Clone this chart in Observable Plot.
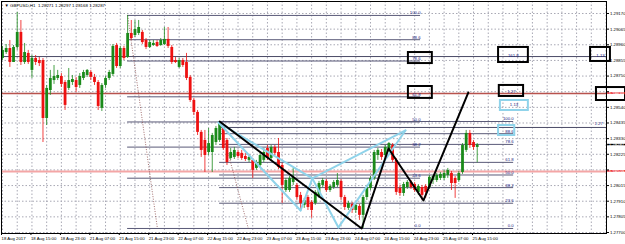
<!DOCTYPE html>
<html><head><meta charset="utf-8">
<script src="https://cdn.jsdelivr.net/npm/d3@7"></script>
<script src="https://cdn.jsdelivr.net/npm/@observablehq/plot@0.6"></script>
<style>body{margin:0;background:#fff;overflow:hidden}</style>
</head><body><div id="chart"></div>
<script>
// ---- data (GBPUSD H1) ----
const opens=[1.28868,1.28908,1.28935,1.28841,1.28942,1.29043,1.28841,1.28902,1.28788,1.28868,1.28854,1.28854,1.28465,1.28653,1.28720,1.28734,1.28747,1.28707,1.28667,1.28707,1.28720,1.28687,1.28734,1.28754,1.28774,1.28741,1.28707,1.28533,1.28687,1.28734,1.28761,1.28955,1.28814,1.28935,1.28875,1.29036,1.29022,1.29036,1.29043,1.28989,1.28942,1.28955,1.28975,1.28955,1.28962,1.28996,1.28942,1.28854,1.28808,1.28854,1.28841,1.28741,1.28586,1.28506,1.28372,1.28318,1.28237,1.28237,1.28304,1.28318,1.28405,1.28318,1.28197,1.28204,1.28237,1.28231,1.28210,1.28184,1.28184,1.28130,1.28150,1.28184,1.28264,1.28197,1.28271,1.28237,1.28150,1.27982,1.27982,1.28036,1.28016,1.27949,1.27882,1.27935,1.27902,1.27895,1.27942,1.28016,1.28043,1.27982,1.28002,1.28016,1.28043,1.27935,1.27862,1.27888,1.27848,1.27875,1.27815,1.27935,1.27996,1.28063,1.28217,1.28237,1.28217,1.28251,1.28284,1.28184,1.27996,1.27962,1.28002,1.28036,1.28022,1.27969,1.28002,1.28009,1.28002,1.28049,1.28049,1.28063,1.28063,1.28083,1.28096,1.28063,1.28049,1.28103,1.28251,1.28365,1.28304,1.28271];
const highs=[1.28949,1.28962,1.28989,1.28955,1.29177,1.29123,1.28969,1.28922,1.28888,1.28888,1.28875,1.28868,1.28687,1.28788,1.28821,1.28788,1.28767,1.28720,1.28801,1.28754,1.28741,1.28767,1.28788,1.28794,1.28788,1.28761,1.28720,1.28700,1.28747,1.28788,1.28962,1.28969,1.28949,1.28949,1.29157,1.29123,1.29123,1.29123,1.29056,1.29002,1.28989,1.28989,1.28989,1.29002,1.29076,1.29076,1.28955,1.28875,1.28868,1.28868,1.28902,1.28754,1.28600,1.28519,1.28385,1.28385,1.28398,1.28365,1.28412,1.28445,1.28425,1.28331,1.28264,1.28271,1.28251,1.28251,1.28231,1.28224,1.28197,1.28184,1.28231,1.28264,1.28284,1.28284,1.28284,1.28331,1.28164,1.28063,1.28076,1.28130,1.28029,1.27969,1.27929,1.27949,1.27915,1.27982,1.28043,1.28063,1.28056,1.28022,1.28049,1.28096,1.28056,1.27949,1.27909,1.27902,1.27895,1.27888,1.27949,1.28016,1.28076,1.28251,1.28264,1.28257,1.28284,1.28304,1.28297,1.28197,1.28016,1.28036,1.28049,1.28049,1.28036,1.28022,1.28016,1.28022,1.28083,1.28083,1.28096,1.28103,1.28117,1.28130,1.28110,1.28076,1.28110,1.28297,1.28385,1.28385,1.28318,1.28297];
const lows=[1.28854,1.28895,1.28808,1.28854,1.28922,1.28821,1.28828,1.28828,1.28734,1.28821,1.28814,1.28304,1.28418,1.28620,1.28694,1.28720,1.28673,1.28519,1.28653,1.28687,1.28640,1.28667,1.28720,1.28741,1.28720,1.28687,1.28519,1.28512,1.28667,1.28720,1.28747,1.28801,1.28801,1.28854,1.28868,1.28989,1.29009,1.29022,1.28962,1.28928,1.28935,1.28949,1.28942,1.28949,1.28955,1.28935,1.28828,1.28834,1.28801,1.28808,1.28720,1.28573,1.28485,1.28351,1.28204,1.28103,1.28217,1.28103,1.28284,1.28304,1.28251,1.28150,1.28184,1.28190,1.28197,1.28184,1.28177,1.28170,1.28063,1.28117,1.28137,1.28170,1.28184,1.28184,1.28217,1.28123,1.27895,1.27969,1.27969,1.28016,1.27915,1.27848,1.27862,1.27848,1.27795,1.27882,1.27929,1.28002,1.27969,1.27969,1.27989,1.28002,1.27915,1.27848,1.27848,1.27828,1.27828,1.27781,1.27727,1.27915,1.27982,1.28049,1.28184,1.28184,1.28197,1.28237,1.28170,1.27949,1.27942,1.27942,1.27989,1.27989,1.27969,1.27949,1.27915,1.27929,1.27989,1.28022,1.28036,1.28049,1.28049,1.28063,1.27982,1.27929,1.28036,1.28090,1.28237,1.28264,1.28251,1.28168];
const closes=[1.28922,1.28935,1.28841,1.28942,1.29043,1.28841,1.28908,1.28841,1.28868,1.28841,1.28834,1.28465,1.28667,1.28734,1.28747,1.28754,1.28694,1.28553,1.28720,1.28727,1.28673,1.28747,1.28774,1.28788,1.28741,1.28707,1.28546,1.28687,1.28734,1.28774,1.28949,1.28814,1.28935,1.28868,1.29036,1.29002,1.29063,1.29076,1.28975,1.28942,1.28975,1.28969,1.28949,1.28989,1.28996,1.28949,1.28841,1.28841,1.28854,1.28821,1.28734,1.28586,1.28506,1.28372,1.28251,1.28217,1.28297,1.28351,1.28398,1.28432,1.28264,1.28170,1.28237,1.28251,1.28210,1.28197,1.28190,1.28204,1.28117,1.28170,1.28217,1.28237,1.28197,1.28271,1.28231,1.28137,1.28016,1.28049,1.28063,1.28070,1.27935,1.27895,1.27915,1.27868,1.27848,1.27969,1.28029,1.28049,1.27982,1.28009,1.28036,1.28049,1.27935,1.27868,1.27895,1.27848,1.27882,1.27815,1.27935,1.28002,1.28063,1.28237,1.28251,1.28204,1.28271,1.28297,1.28184,1.27969,1.27962,1.28022,1.28036,1.28002,1.27982,1.28009,1.27949,1.27969,1.28070,1.28076,1.28083,1.28090,1.28096,1.28117,1.28029,1.28029,1.28096,1.28284,1.28365,1.28284,1.28271,1.28287];
const timeLabels=["18 Aug 2017","18 Aug 15:00","18 Aug 23:00","21 Aug 07:00","21 Aug 15:00","21 Aug 23:00","22 Aug 07:00","22 Aug 15:00","22 Aug 23:00","23 Aug 07:00","23 Aug 15:00","23 Aug 23:00","24 Aug 07:00","24 Aug 15:00","24 Aug 23:00","25 Aug 07:00","25 Aug 15:00"];
const priceTicks=[1.27700,1.27805,1.27910,1.28015,1.28120,1.28225,1.28330,1.28435,1.28540,1.28645,1.28750,1.28855,1.28960,1.29065,1.29170];
// tick labels hidden behind price tags in the reference
const hiddenTickLabels=[1.28120,1.28645];
const fibRatios=[0,0.236,0.382,0.5,0.618,0.786,0.886,1];
const fib1={t1:34,p1:1.29157,t2:42.1,p2:1.27727,end:113.6};
const fib2={t1:59,p1:1.28445,t2:66.8,p2:1.27727,end:138.9};
const hLines=[{p:1.28881,c:"#4a4a66",w:1},{p:1.28633,c:"#b8524d",w:1.4},{p:1.28110,c:"#f4a6a6",w:2}];
const segLines=[{t1:59,t2:164.13,p:1.28405,c:"#4a4a66"}];
const zigzag=[{t:59,p:1.28445},{t:97.6,p:1.27727},{t:104.9,p:1.28264},{t:114.4,p:1.27915},{t:126.6,p:1.28640}];
const cyanSegs=[[{t:58.7,p:1.28438},{t:81,p:1.27848}],[{t:81,p:1.27848},{t:84.2,p:1.28063}],[{t:58.7,p:1.28438},{t:84.2,p:1.28063}],[{t:84.2,p:1.28063},{t:91.3,p:1.27734}],[{t:91.3,p:1.27734},{t:109.5,p:1.28385}],[{t:84.2,p:1.28063},{t:109.5,p:1.28385}]];
const blackBoxes=[{t1:110.3,t2:116.8,p1:1.28908,p2:1.28834},{t1:110.3,t2:116.8,p1:1.28680,p2:1.28600},{t1:134.8,t2:142.9,p1:1.28942,p2:1.28841},{t1:135,t2:141.6,p1:1.28687,p2:1.28613},{t1:159.8,t2:165.2,p1:1.28942,p2:1.28848},{t1:161.4,t2:169.3,p1:1.28673,p2:1.28586}];
const cyanBoxes=[{t1:135.3,t2:142.9,p1:1.28586,p2:1.28519},{t1:134.8,t2:139.2,p1:1.28418,p2:1.28351}];
const noteTexts=[{t:138.8,p:1.28881,s:"161.8"},{t:138.3,p:1.28640,s:"1.27"},{t:162.5,p:1.28881,s:"1.13"},{t:139,p:1.28552,s:"1.13"},{t:162,p:1.28425,s:"1.27"}];
const priceTags=[{p:1.28633,s:"1.28633",bg:"#e8141c"},{p:1.28287,s:"1.28287",bg:"#000"},{p:1.28110,s:"1.28109",bg:"#e8141c"}];

// ---- build ----
const n=opens.length;
const candles=opens.map((o,i)=>({i,o,h:highs[i],l:lows[i],c:closes[i]}));
const xDom=[-0.272,164.13], yDom=[1.276933,1.292505];
function fibLevels(f){return fibRatios.map(r=>({r,lab:(r*100).toFixed(1),p:f.p2+r*(f.p1-f.p2),t1:f.t1,t2:f.end}));}
const fl=[...fibLevels(fib1),...fibLevels(fib2)];
const bull="#1a8a1a", bear="#ee1111";
const last=candles[n-1];
const header=`\u25BC GBPUSD,H1  ${last.o.toFixed(5)} ${last.h.toFixed(5)} ${last.l.toFixed(5)} ${last.c.toFixed(5)}`;
const FS=4.3;
const chart=Plot.plot({
  width:625,height:244,marginTop:1,marginBottom:11,marginLeft:1,marginRight:19,
  style:{fontFamily:"Liberation Sans, Arial, sans-serif",fontSize:FS+"px",background:"#fff",overflow:"visible"},
  x:{domain:xDom,axis:null},
  y:{domain:yDom,axis:null},
  marks:[
    Plot.gridY(priceTicks,{stroke:"#a8a8b4",strokeOpacity:1,strokeDasharray:"1.5,2"}),
    Plot.gridX(d3.range(0,165,4),{stroke:"#a8a8b4",strokeOpacity:1,strokeDasharray:"1.5,2"}),
    Plot.ruleY(hLines,{y:"p",stroke:"c",strokeWidth:"w"}),
    Plot.ruleY(segLines,{y:"p",x1:"t1",x2:"t2",stroke:"c",strokeWidth:1}),
    Plot.ruleY(fl,{y:"p",x1:"t1",x2:"t2",stroke:"#5a5a78",strokeWidth:1}),
    Plot.link([fib1,fib2],{x1:"t1",y1:"p1",x2:"t2",y2:"p2",stroke:"#8a4a4a",strokeDasharray:"1,1.5",strokeWidth:0.8}),
    Plot.text(fl,{x:"t2",y:"p",text:"lab",textAnchor:"end",dy:-2.5,fill:"#1a1a80",fontSize:FS}),
    Plot.ruleX(candles,{x:"i",y1:"l",y2:"h",stroke:d=>d.c>=d.o?bull:bear,strokeWidth:0.8}),
    Plot.ruleX(candles,{x:"i",y1:"o",y2:"c",stroke:d=>d.c>=d.o?bull:bear,strokeWidth:2.8}),
    ...cyanSegs.map(s=>Plot.line(s,{x:"t",y:"p",stroke:"#8fd3ea",strokeWidth:2})),
    Plot.line(zigzag,{x:"t",y:"p",stroke:"#000",strokeWidth:2}),
    Plot.rect(cyanBoxes,{x1:"t1",x2:"t2",y1:"p1",y2:"p2",stroke:"#8fd3ea",strokeWidth:2,fill:"none"}),
    Plot.rect(blackBoxes,{x1:"t1",x2:"t2",y1:"p1",y2:"p2",stroke:"#000",strokeWidth:2,fill:"none"}),
    Plot.text(noteTexts,{x:"t",y:"p",text:"s",fill:"#1a1a80",fontSize:FS,dy:-1}),
    Plot.frame({stroke:"#000",strokeWidth:1}),
    Plot.rect(priceTags,{x1:()=>xDom[1]+0.3,x2:()=>xDom[1]+5.2,y1:d=>d.p+0.00005,y2:d=>d.p-0.00005,fill:"bg"}),
    Plot.text(priceTags,{x:()=>xDom[1]+0.6,y:"p",text:"s",fill:"#fff",textAnchor:"start",fontSize:FS}),
    Plot.axisY(priceTicks,{anchor:"right",tickSize:2,tickPadding:1.5,tickFormat:d=>hiddenTickLabels.includes(d)?null:d.toFixed(5),fontSize:FS,stroke:"#000"}),
    Plot.axisX(timeLabels.map((_,k)=>k*8),{anchor:"bottom",tickSize:2,tickPadding:1.5,tickFormat:d=>timeLabels[d/8],textAnchor:"start",dx:-1,fontSize:FS}),
    Plot.text([header],{frameAnchor:"top-left",dx:3,dy:2,fontSize:4.4,fill:"#000"})
  ]
});
document.getElementById("chart").appendChild(chart);
</script>
</body></html>
